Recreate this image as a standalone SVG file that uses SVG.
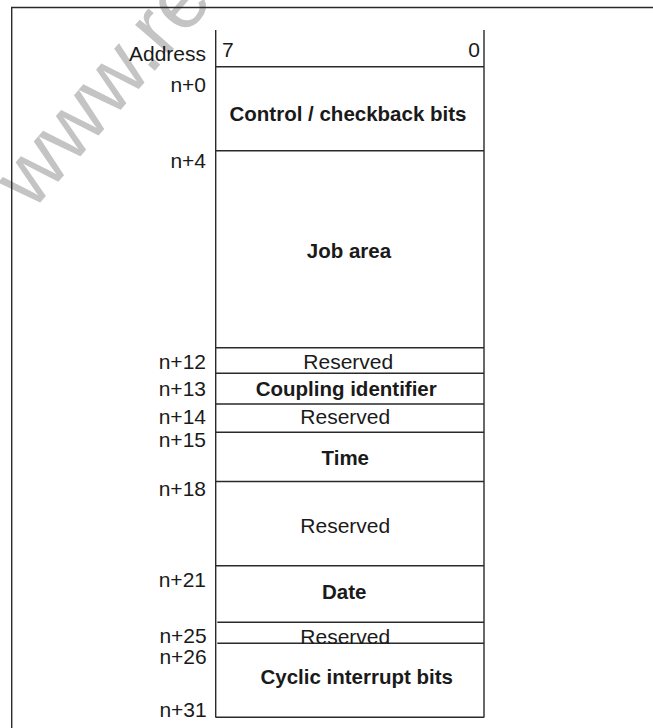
<svg xmlns="http://www.w3.org/2000/svg" width="653" height="728" viewBox="0 0 653 728">
<style>
.t{font-family:"Liberation Sans",Arial,sans-serif;font-size:21px;fill:#1a1a1a}
.b{font-family:"Liberation Sans",Arial,sans-serif;font-size:20.5px;font-weight:bold;fill:#1a1a1a;text-anchor:middle}
.r{text-anchor:end}
.m{text-anchor:middle}
.ln{stroke:#2a2a2a;stroke-width:1.4;fill:none}
.wm{font-family:"Liberation Sans",Arial,sans-serif;font-size:85px;fill:#c4c4c4}
</style>
<rect width="653" height="728" fill="#fff"/>
<g id="watermark"><text class="wm" transform="translate(32,212) rotate(-49)">www.re</text></g>
<g id="frame"><path class="ln" d="M11.7,728 V7.5 H653" stroke-width="1.6"/></g>
<g id="header">
<text class="t r" x="206" y="61">Address</text>
<text class="t" x="222" y="57">7</text>
<text class="t r" x="480" y="57">0</text>
</g>
<g id="connectors">
<path class="ln" d="M215.7,30 V717.5 M484,30 V717.5"/>
<path class="ln" d="M215.7,66.7 H484 M215,150.7 H484 M215,347.7 H484 M215.7,373.3 H484 M215.7,404 H484 M215.7,432.3 H484 M215.7,481.5 H484 M215.7,565.7 H484 M217.3,622.3 H484 M217.3,643.3 H484 M215.7,717.3 H484"/>
</g>
<g id="row-n0"><text class="t r" x="206" y="91.7">n+0</text><text class="b" x="348" y="121">Control / checkback bits</text></g>
<g id="row-n4"><text class="t r" x="206" y="168">n+4</text><text class="b" x="349" y="258">Job area</text></g>
<g id="row-n12"><text class="t r" x="206" y="369.3">n+12</text><text class="t m" x="348.3" y="369">Reserved</text></g>
<g id="row-n13"><text class="t r" x="206" y="396">n+13</text><text class="b" x="346.2" y="396">Coupling identifier</text></g>
<g id="row-n14"><text class="t r" x="206" y="424.3">n+14</text><text class="t m" x="345.3" y="424">Reserved</text></g>
<g id="row-n15"><text class="t r" x="206" y="446.7">n+15</text><text class="b" x="345.3" y="465">Time</text></g>
<g id="row-n18"><text class="t r" x="206" y="496">n+18</text><text class="t m" x="345.3" y="532.7">Reserved</text></g>
<g id="row-n21"><text class="t r" x="206" y="587.3">n+21</text><text class="b" x="344.2" y="599.3">Date</text></g>
<g id="row-n25"><text class="t r" x="206.7" y="643.3">n+25</text><text class="t m" x="345.3" y="643.5">Reserved</text></g>
<g id="row-n26"><text class="t r" x="206.7" y="664">n+26</text><text class="b" x="356.7" y="684">Cyclic interrupt bits</text></g>
<g id="row-n31"><text class="t r" x="206.7" y="717.3">n+31</text></g>
</svg>
